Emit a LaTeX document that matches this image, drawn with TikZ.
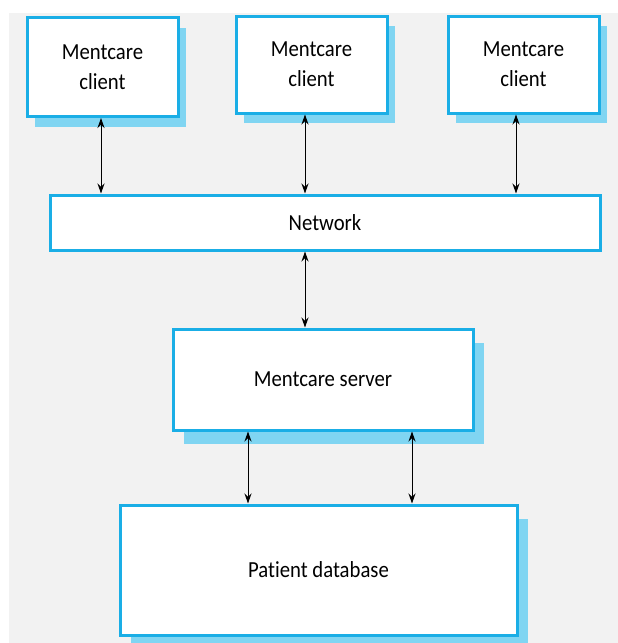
\documentclass[tikz,border=0pt]{standalone}
\usepackage{fontspec}
\setmainfont{Carlito}[FakeStretch=0.9, Ligatures=NoCommon]
\usepackage{tikz}
\usetikzlibrary{
  arrows.meta,
  positioning,
  shadows
}
\definecolor{mentblue}{HTML}{1AAEE6}
\definecolor{shadowblue}{HTML}{80D5F2}
\definecolor{backgray}{HTML}{F2F2F2}
\tikzstyle{clientbox} = [
  rectangle, draw=mentblue, line width=3pt, fill=white,
  minimum width=151pt, minimum height=97pt,
  align=center, font=\fontsize{23}{30}\selectfont,
  general shadow={fill=shadowblue, shadow xshift=8pt, shadow yshift=-10pt}
]
\tikzstyle{bigbox} = [
  rectangle, draw=mentblue, line width=3pt, fill=white,
  align=center, font=\fontsize{23}{30}\selectfont,
  general shadow={fill=shadowblue, shadow xshift=11pt, shadow yshift=-14pt}
]
\tikzstyle{netbox} = [
  rectangle, draw=mentblue, line width=3pt, fill=white,
  minimum width=550pt, minimum height=55pt,
  align=center, font=\fontsize{23}{30}\selectfont
]
\tikzstyle{arrowstyle} = [{Stealth[length=10pt,width=7pt]}-{Stealth[length=10pt,width=7pt]}, line width=1pt]

\begin{document}
\begin{tikzpicture}[x=1pt, y=-1pt]

\useasboundingbox (0,0) rectangle (618,643);
\fill[backgray] (9,13) rectangle (618,643);

% --- Nodes ---
\node[clientbox, minimum height=99pt] (client1) at (102.5,67) {Mentcare\\client};
\node[clientbox] (client2) at (311.5,64.5) {Mentcare\\client};
\node[clientbox] (client3) at (523.5,64.5) {Mentcare\\client};
\node[netbox] (network) at (325,222.5) {Network};
\node[bigbox, minimum width=300pt, minimum height=101pt] (server) at (323,379.5) {Mentcare server};
\node[bigbox, minimum width=397pt, minimum height=130pt] (database) at (318.5,570) {Patient database};

% --- Arrows ---
\draw[arrowstyle] ([xshift=-1.5pt]client1.south) -- ([xshift=-1.5pt]client1.south |- network.north);
\draw[arrowstyle] ([xshift=-6.5pt]client2.south) -- ([xshift=-6.5pt]client2.south |- network.north);
\draw[arrowstyle] ([xshift=-7.5pt]client3.south) -- ([xshift=-7.5pt]client3.south |- network.north);
\draw[arrowstyle] ([xshift=-18pt]server.north |- network.south) -- ([xshift=-18pt]server.north);
\draw[arrowstyle] ([xshift=-75pt]server.south) -- ([xshift=-75pt]server.south |- database.north);
\draw[arrowstyle] ([xshift=89pt]server.south) -- ([xshift=89pt]server.south |- database.north);

\end{tikzpicture}
\end{document}
